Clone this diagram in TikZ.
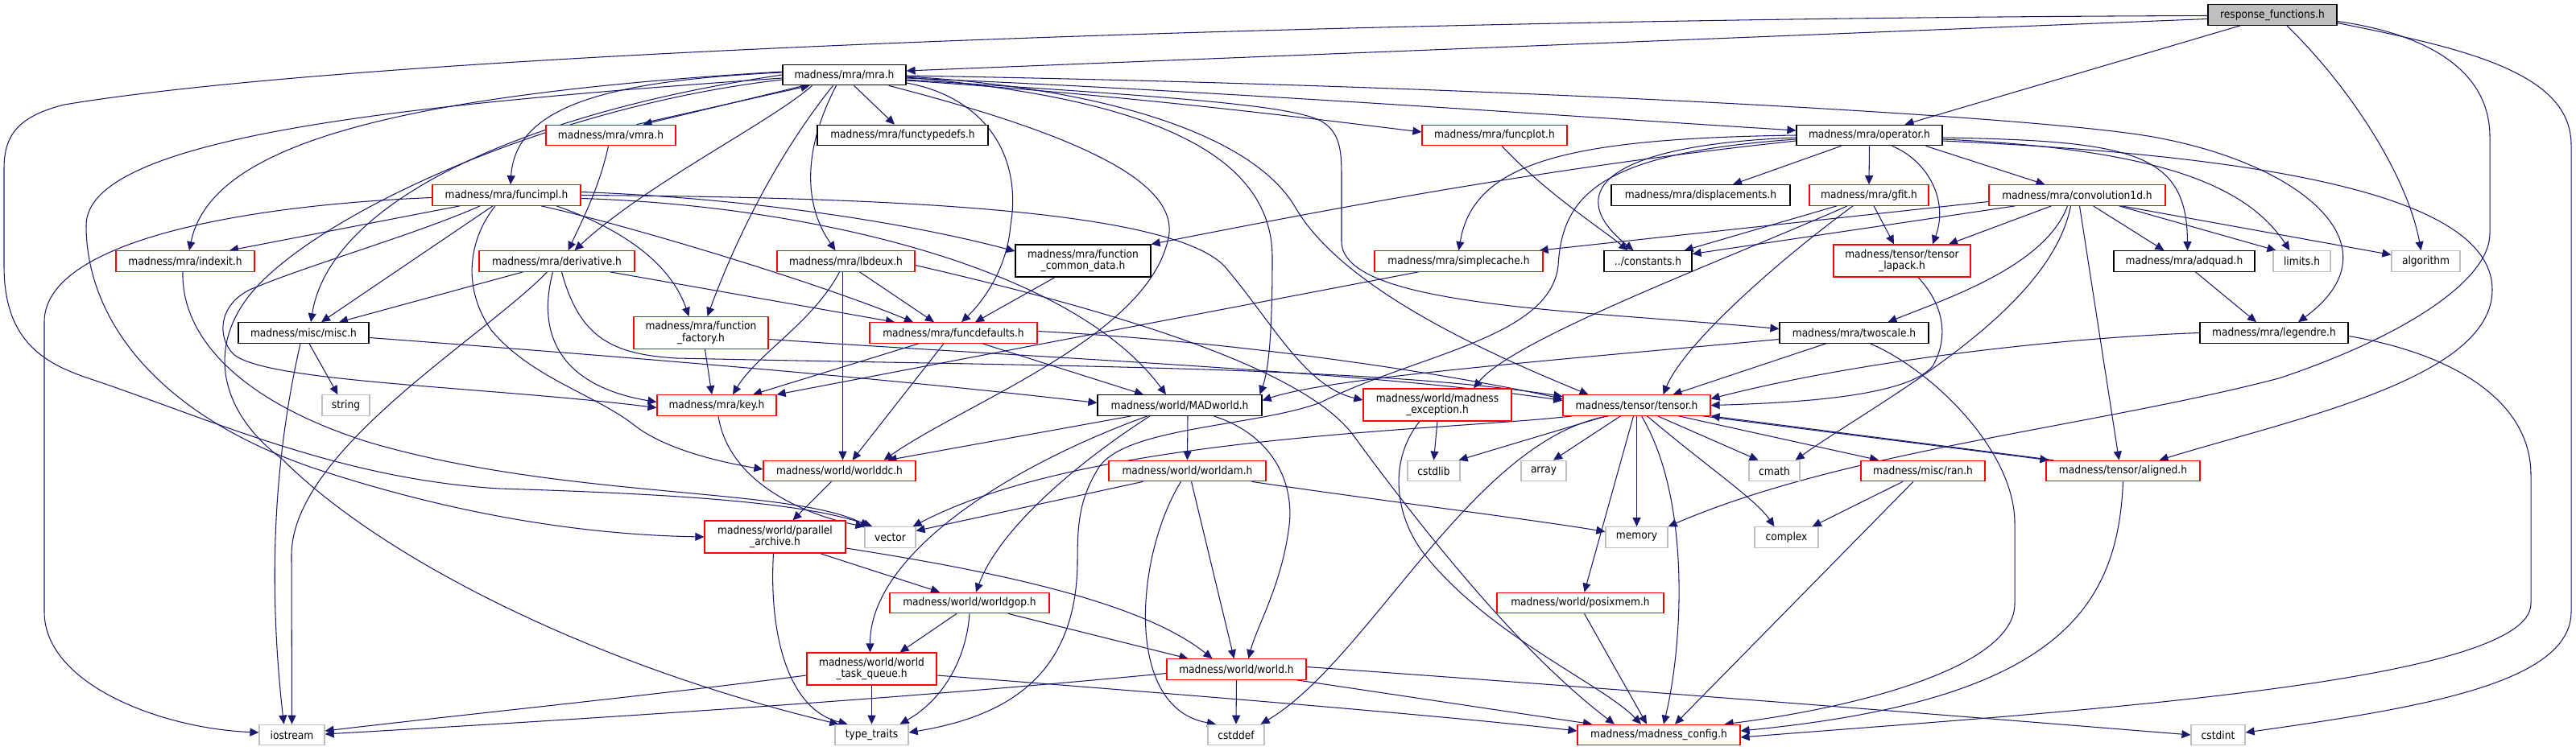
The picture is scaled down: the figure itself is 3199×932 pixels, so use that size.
\documentclass[tikz,border=0pt]{standalone}
\usepackage{fontspec}
\setmainfont{DejaVu Sans Condensed}
\usetikzlibrary{arrows.meta}
\definecolor{edgeblue}{HTML}{191970}
\definecolor{lgray}{HTML}{BFBFBF}
\pgfdeclarelayer{back}
\pgfdeclarelayer{edges}
\pgfsetlayers{back,edges,main}
\tikzset{
  nbox/.style={rectangle, draw, fill=white, line width=1.2pt, inner sep=0pt, minimum height=25.5pt, align=center, font=\fontsize{13.6}{14.3}\selectfont},
  rbox/.style={nbox, draw=red},
  bbox/.style={nbox, draw=black},
  gbox/.style={nbox, draw=lgray},
  rootbox/.style={nbox, draw=black, fill=lgray},
  tall/.style={minimum height=40pt},
  dep/.style={draw=edgeblue, line width=1.05pt, -{Triangle[length=11pt,width=10pt]}},
}
\begin{document}
\begin{tikzpicture}[x=1pt,y=-1pt]
\useasboundingbox (0,0) rectangle (3199,932);
\begin{pgfonlayer}{back}
\fill[white] (0,0) rectangle (3199,932);
\end{pgfonlayer}
% nodes
\node[rootbox, minimum width=160pt] (R) at (2822,18.5) {response\_functions.h};
\node[bbox, minimum width=153pt] (mra) at (1048.5,93) {madness/mra/mra.h};
\node[rbox, minimum width=161pt] (vmra) at (758.5,168) {madness/mra/vmra.h};
\node[bbox, minimum width=212pt] (ftd) at (1121,168) {madness/mra/functypedefs.h};
\node[rbox, minimum width=180pt] (fplot) at (1856,168) {madness/mra/funcplot.h};
\node[bbox, minimum width=181pt] (oper) at (2321.5,168) {madness/mra/operator.h};
\node[rbox, minimum width=184pt] (fimpl) at (629,242.5) {madness/mra/funcimpl.h};
\node[bbox, minimum width=222pt] (displ) at (2112,242.5) {madness/mra/displacements.h};
\node[rbox, minimum width=148pt] (gfit) at (2321,242.5) {madness/mra/gfit.h};
\node[rbox, minimum width=219pt] (conv) at (2579.5,242.5) {madness/mra/convolution1d.h};
\node[rbox, minimum width=172pt] (indexit) at (230,324.5) {madness/mra/indexit.h};
\node[rbox, minimum width=193pt] (deriv) at (691.5,324.5) {madness/mra/derivative.h};
\node[rbox, minimum width=171pt] (lbdeux) at (1050.5,324.5) {madness/mra/lbdeux.h};
\node[bbox, tall, minimum width=168pt] (fcd) at (1345,324) {madness/mra/function\\\_common\_data.h};
\node[rbox, minimum width=209pt] (scache) at (1811.5,324.5) {madness/mra/simplecache.h};
\node[bbox, minimum width=109pt] (consts) at (2046.5,324.5) {../constants.h};
\node[rbox, tall, minimum width=170pt] (lapack) at (2362,324) {madness/tensor/tensor\\\_lapack.h};
\node[bbox, minimum width=175pt] (adquad) at (2712.5,324.5) {madness/mra/adquad.h};
\node[gbox, minimum width=71pt] (limits) at (2858.5,324.5) {limits.h};
\node[gbox, minimum width=85pt] (algo) at (3012.5,324.5) {algorithm};
\node[bbox, minimum width=162pt] (misc) at (377,413.5) {madness/misc/misc.h};
\node[rbox, tall, minimum width=167pt] (ffact) at (870.5,413.5) {madness/mra/function\\\_factory.h};
\node[rbox, minimum width=208pt] (fdef) at (1184,413.5) {madness/mra/funcdefaults.h};
\node[bbox, minimum width=185pt] (twoscale) at (2302.5,413.5) {madness/mra/twoscale.h};
\node[bbox, minimum width=184pt] (legendre) at (2824,413.5) {madness/mra/legendre.h};
\node[gbox, minimum width=59pt] (string) at (429.5,503.5) {string};
\node[rbox, minimum width=148pt] (key) at (890,503.5) {madness/mra/key.h};
\node[bbox, minimum width=204pt] (madw) at (1465,503.5) {madness/world/MADworld.h};
\node[rbox, tall, minimum width=184pt] (mexc) at (1785,503) {madness/world/madness\\\_exception.h};
\node[rbox, minimum width=183pt] (tensor) at (2032.5,503.5) {madness/tensor/tensor.h};
\node[rbox, minimum width=189pt] (wdc) at (1042.5,585) {madness/world/worlddc.h};
\node[rbox, minimum width=195pt] (wam) at (1474.5,585) {madness/world/worldam.h};
\node[gbox, minimum width=65pt] (cstdlib) at (1780.5,585) {cstdlib};
\node[gbox, minimum width=56pt] (array) at (1917,585) {array};
\node[gbox, minimum width=63pt] (cmath) at (2203.5,585) {cmath};
\node[rbox, minimum width=154pt] (ran) at (2388,585) {madness/misc/ran.h};
\node[rbox, minimum width=191pt] (aligned) at (2636.5,585) {madness/tensor/aligned.h};
\node[rbox, tall, minimum width=175pt] (parch) at (962.5,667) {madness/world/parallel\\\_archive.h};
\node[gbox, minimum width=63pt] (vector) at (1105.5,667.5) {vector};
\node[gbox, minimum width=77pt] (memory) at (2032.5,667.5) {memory};
\node[gbox, minimum width=79pt] (complex) at (2218.5,667.5) {complex};
\node[rbox, minimum width=198pt] (wgop) at (1204,749) {madness/world/worldgop.h};
\node[rbox, minimum width=207pt] (posix) at (1962.5,749) {madness/world/posixmem.h};
\node[rbox, tall, minimum width=161pt] (wtq) at (1082.5,831) {madness/world/world\\\_task\_queue.h};
\node[rbox, minimum width=173pt] (world) at (1535.5,831.5) {madness/world/world.h};
\node[gbox, minimum width=81pt] (iostream) at (362.5,913) {iostream};
\node[gbox, minimum width=91pt] (ttraits) at (1082.5,913) {type\_traits};
\node[gbox, minimum width=70pt] (cstddef) at (1535,913) {cstddef};
\node[rbox, minimum width=202pt] (config) at (2060,913) {madness/madness\_config.h};
\node[gbox, minimum width=67pt] (cstdint) at (2754.5,913) {cstdint};

\begin{pgfonlayer}{edges}
% response_functions.h
\draw[dep] ([yshift=-5pt]R.west) -- ([yshift=5pt]mra.east);
\draw[dep] ([xshift=-40pt]R.south) -- ([xshift=44pt]oper.north);
\draw[dep] ([yshift=-1pt]R.west) .. controls (1800,22) and (500,60) .. (80,130) .. controls (20,145) and (5,170) .. (5,210) -- (5,330) .. controls (5,420) and (50,450) .. (110,470) .. controls (260,520) and (420,595) .. (620,607) .. controls (850,614) and (1000,625) .. ([xshift=10pt]vector.north west);
\draw[dep] ([xshift=18pt]R.south) .. controls (2920,110) and (2990,220) .. ([xshift=-6pt]algo.north);
\draw[dep] ([yshift=-8pt]R.east) .. controls (3000,40) and (3092,80) .. (3092,170) -- (3092,290) .. controls (3092,350) and (2980,420) .. (2830,470) .. controls (2600,530) and (2290,560) .. (memory.north east);
\draw[dep] ([yshift=-10pt]R.east) .. controls (3060,60) and (3193,90) .. (3193,180) -- (3193,760) .. controls (3193,850) and (3000,880) .. ([yshift=3pt]cstdint.east);
% mra.h
\draw[dep] ([xshift=-50pt]mra.south) -- ([xshift=40pt]vmra.north);
\draw[dep] ([xshift=32pt]vmra.north) -- ([xshift=-43pt]mra.south);
\draw[dep] ([xshift=12pt]mra.south) -- ([xshift=-10pt]ftd.north);
\draw[dep] ([yshift=-7pt]mra.east) .. controls (1400,118) and (1650,150) .. ([yshift=4pt]fplot.west);
\draw[dep] ([yshift=-4pt]mra.east) .. controls (1500,112) and (2000,148) .. ([yshift=6pt]oper.west);
\draw[dep] ([yshift=-1pt]mra.east) .. controls (1800,105) and (2450,140) .. (2640,165) .. controls (2840,190) and (2990,300) .. ([xshift=30pt]legendre.north);
\draw[dep] ([yshift=-6pt]mra.east) .. controls (1450,120) and (1600,130) .. (1640,150) .. controls (1666,165) and (1666,190) .. (1666,225) -- (1666,300) .. controls (1666,380) and (1950,385) .. ([yshift=5pt]twoscale.west);
\draw[dep] ([yshift=-2pt]mra.east) .. controls (1380,110) and (1560,170) .. (1610,260) .. controls (1670,360) and (1850,440) .. ([xshift=-60pt]tensor.north);
\draw[dep] ([yshift=-3pt]mra.east) .. controls (1400,120) and (1580,180) .. (1580,320) .. controls (1580,420) and (1575,460) .. ([xshift=-3pt]madw.north east);
\draw[dep] ([xshift=55pt]mra.south) .. controls (1350,170) and (1470,230) .. (1450,300) .. controls (1420,420) and (1200,500) .. ([xshift=55pt]wdc.north);
\draw[dep] ([yshift=-10pt]mra.east) .. controls (1220,120) and (1270,190) .. (1255,280) .. controls (1250,340) and (1215,380) .. ([xshift=10pt]fdef.north);
\draw[dep] ([xshift=-10pt]mra.south) .. controls (1000,180) and (995,250) .. ([xshift=-13pt]lbdeux.north);
\draw[dep] ([xshift=-14pt]mra.south) .. controls (975,180) and (920,280) .. ([xshift=8pt]ffact.north);
\draw[dep] ([xshift=-40pt]mra.south) .. controls (960,150) and (800,230) .. ([xshift=22pt]deriv.north);
\draw[dep] ([yshift=3pt]mra.west) .. controls (760,100) and (640,130) .. ([xshift=5pt]fimpl.north);
\draw[dep] ([yshift=4pt]mra.west) .. controls (450,120) and (260,190) .. ([xshift=5pt]indexit.north);
\draw[dep] (mra.west) .. controls (650,140) and (410,250) .. ([xshift=9pt]misc.north);
\draw[dep] ([yshift=-4pt]mra.west) .. controls (500,130) and (107,170) .. (107,280) .. controls (107,400) and (200,520) .. (400,585) .. controls (600,650) and (760,665) .. (parch.west);
\draw[dep] ([yshift=-6pt]mra.west) .. controls (700,130) and (430,250) .. (330,345) .. controls (250,420) and (270,510) .. (350,570) .. controls (480,700) and (750,830) .. ([xshift=5pt]ttraits.north west);
% vmra.h
\draw[dep] ([xshift=-3pt]vmra.south) .. controls (745,230) and (725,270) .. ([xshift=14pt]deriv.north);
% operator.h
\draw[dep] ([xshift=-35pt]oper.south) -- ([xshift=40pt]displ.north);
\draw[dep] (oper.south) -- (gfit.north);
\draw[dep] ([xshift=70pt]oper.south) -- ([xshift=-40pt]conv.north);
\draw[dep] (oper.west) .. controls (1950,172) and (1830,200) .. (scache.north);
\draw[dep] ([yshift=-3pt]oper.west) .. controls (1990,180) and (1940,240) .. ([xshift=-18pt]consts.north);
\draw[dep] ([yshift=-5pt]oper.west) .. controls (1990,190) and (1940,240) .. (1935,330) .. controls (1925,420) and (1760,440) .. (1640,500) .. controls (1560,530) and (1400,530) .. (1365,580) .. controls (1340,620) and (1338,650) .. (1338,700) .. controls (1336,840) and (1250,890) .. ([yshift=3pt]ttraits.east);
\draw[dep] ([yshift=-7pt]oper.west) .. controls (1900,210) and (1600,270) .. (fcd.north east);
\draw[dep] ([xshift=28pt]oper.south) .. controls (2395,200) and (2420,250) .. ([xshift=38pt]lapack.north);
\draw[dep] ([yshift=-3pt]oper.east) .. controls (2650,175) and (2716,190) .. ([xshift=4pt]adquad.north);
\draw[dep] ([yshift=-5pt]oper.east) .. controls (2680,185) and (2790,230) .. ([xshift=-15pt]limits.north);
\draw[dep] ([yshift=-7pt]oper.east) .. controls (2850,195) and (3095,250) .. (3095,360) .. controls (3095,470) and (2850,520) .. ([xshift=45pt]aligned.north);
% convolution1d.h
\draw[dep] ([yshift=-8pt]conv.west) -- ([xshift=-5pt]scache.north east);
\draw[dep] ([xshift=-77pt]conv.south) -- ([yshift=9pt]consts.east);
\draw[dep] ([xshift=-32pt]conv.south) -- ([xshift=58pt]lapack.north);
\draw[dep] ([xshift=-12pt]conv.south) .. controls (2540,330) and (2420,370) .. ([xshift=42pt]twoscale.north);
\draw[dep] ([xshift=-8pt]conv.south) .. controls (2545,390) and (2330,500) .. ([xshift=-6pt]cmath.north east);
\draw[dep] ([xshift=3pt]conv.south) -- ([xshift=-5pt]aligned.north);
\draw[dep] ([xshift=20pt]conv.south) -- ([xshift=-25pt]adquad.north);
\draw[dep] ([xshift=52pt]conv.south) -- ([xshift=-32pt]limits.north);
\draw[dep] ([xshift=55pt]conv.south) -- ([yshift=8pt]algo.west);
% gfit.h
\draw[dep] ([xshift=-40pt]gfit.south) -- ([xshift=-10pt]consts.north east);
\draw[dep] ([xshift=6pt]gfit.south) -- ([xshift=-10pt]lapack.north);
\draw[dep] ([xshift=-27pt]gfit.south) .. controls (2150,320) and (1880,420) .. ([xshift=45pt]mexc.north);
\draw[dep] ([xshift=-20pt]gfit.south) .. controls (2200,330) and (2090,430) .. ([xshift=33pt]tensor.north);
% tensor_lapack.h
\draw[dep] ([xshift=20pt]lapack.south) .. controls (2415,380) and (2420,420) .. (2400,455) .. controls (2370,490) and (2250,500) .. (tensor.east);
% funcplot, simplecache, common_data, adquad
\draw[dep] ([xshift=9pt]fplot.south) .. controls (1920,240) and (1990,285) .. ([xshift=-25pt]consts.north);
\draw[dep] ([xshift=-50pt]scache.south) -- (key.north east);
\draw[dep] ([xshift=-35pt]fcd.south) -- ([xshift=27pt]fdef.north);
\draw[dep] ([xshift=14pt]adquad.south) -- ([xshift=-22pt]legendre.north);
% twoscale.h
\draw[dep] ([xshift=-35pt]twoscale.south) -- ([xshift=45pt]tensor.north);
\draw[dep] ([yshift=-8pt]twoscale.west) .. controls (1900,450) and (1650,470) .. ([yshift=6pt]madw.east);
\draw[dep] ([xshift=20pt]twoscale.south) .. controls (2400,460) and (2502,560) .. (2502,650) -- (2502,750) .. controls (2502,830) and (2300,880) .. ([xshift=-20pt]config.north east);
% legendre.h
\draw[dep] (legendre.west) .. controls (2550,420) and (2300,450) .. ([yshift=8pt]tensor.east);
\draw[dep] ([yshift=-4pt]legendre.east) .. controls (3050,440) and (3143,500) .. (3143,590) -- (3143,750) .. controls (3143,850) and (2550,885) .. ([yshift=-3pt]config.east);
% funcimpl.h
\draw[dep] ([yshift=-3pt]fimpl.west) .. controls (300,255) and (55,300) .. (55,400) -- (55,760) .. controls (55,850) and (200,905) .. ([yshift=3pt]iostream.west);
\draw[dep] ([xshift=-58pt]fimpl.south) -- ([xshift=55pt]indexit.north);
\draw[dep] ([xshift=-17pt]fimpl.south) -- ([xshift=22pt]misc.north);
\draw[dep] ([xshift=-33pt]fimpl.south) .. controls (520,290) and (380,330) .. (310,360) .. controls (270,380) and (270,420) .. (290,440) .. controls (330,475) and (600,480) .. ([yshift=-3pt]key.west);
\draw[dep] ([xshift=-14pt]fimpl.south) .. controls (580,300) and (575,360) .. (610,410) .. controls (660,470) and (740,490) .. (790,530) .. controls (830,560) and (900,575) .. ([yshift=2pt]wdc.west);
\draw[dep] ([xshift=62pt]fimpl.south) .. controls (760,280) and (830,320) .. ([xshift=-15pt]ffact.north);
\draw[dep] ([xshift=43pt]fimpl.south) .. controls (760,275) and (1000,345) .. ([xshift=-50pt]fdef.north);
\draw[dep] ([yshift=4pt]fimpl.east) .. controls (900,245) and (1100,270) .. ([yshift=12pt]fcd.west);
\draw[dep] ([yshift=-4pt]fimpl.east) .. controls (1000,255) and (1330,330) .. ([xshift=-17pt]madw.north);
\draw[dep] (fimpl.east) .. controls (1100,245) and (1450,260) .. (1520,330) .. controls (1580,400) and (1620,480) .. ([yshift=6pt]mexc.west);
% derivative.h
\draw[dep] ([xshift=-42pt]deriv.south) -- ([xshift=44pt]misc.north);
\draw[dep] ([xshift=66pt]deriv.south) -- ([xshift=-73pt]fdef.north);
\draw[dep] ([xshift=-12pt]deriv.south) .. controls (600,420) and (362,560) .. (362,690) -- (iostream.north);
\draw[dep] ([xshift=-5pt]deriv.south) .. controls (665,420) and (700,480) .. ([yshift=4pt]key.west);
\draw[dep] ([xshift=6pt]deriv.south) .. controls (720,420) and (760,440) .. (840,445) .. controls (1300,455) and (1700,455) .. ([yshift=11pt]tensor.west);
% lbdeux.h
\draw[dep] ([xshift=-8pt]lbdeux.south) .. controls (1010,400) and (940,440) .. ([xshift=20pt]key.north);
\draw[dep] ([xshift=-4pt]lbdeux.south) -- ([xshift=4pt]wdc.north);
\draw[dep] ([xshift=17pt]lbdeux.south) -- ([xshift=-24pt]fdef.north);
\draw[dep] ([yshift=-5pt]lbdeux.east) .. controls (1400,390) and (1620,460) .. (1680,540) .. controls (1790,690) and (1900,820) .. ([xshift=-55pt]config.north);
% function_factory.h
\draw[dep] ([xshift=5pt]ffact.south) -- ([xshift=-6pt]key.north);
\draw[dep] ([yshift=-8pt]ffact.east) .. controls (1300,445) and (1700,462) .. ([yshift=6pt]tensor.west);
% funcdefaults.h
\draw[dep] ([xshift=-43pt]fdef.south) -- ([xshift=45pt]key.north);
\draw[dep] ([xshift=-12pt]fdef.south) -- ([xshift=16pt]wdc.north);
\draw[dep] ([xshift=36pt]fdef.south) -- ([xshift=-45pt]madw.north);
\draw[dep] ([yshift=2pt]fdef.east) .. controls (1550,425) and (1800,465) .. ([yshift=8pt]tensor.west);
% misc.h
\draw[dep] ([xshift=7pt]misc.south) -- ([xshift=-10pt]string.north);
\draw[dep] ([xshift=-4pt]misc.south) .. controls (345,550) and (330,700) .. ([xshift=-10pt]iostream.north);
\draw[dep] ([yshift=-6pt]misc.east) .. controls (800,445) and (1100,470) .. ([yshift=3pt]madw.west);
% indexit.h, key.h
\draw[dep] ([xshift=-3pt]indexit.south) .. controls (225,420) and (300,500) .. (460,550) .. controls (700,620) and (980,605) .. ([xshift=6pt]vector.north west);
\draw[dep] ([xshift=2pt]key.south) .. controls (905,600) and (1000,640) .. (vector.north west);
% MADworld.h
\draw[dep] ([xshift=-60pt]madw.south) -- ([xshift=60pt]wdc.north);
\draw[dep] ([xshift=10pt]madw.south) -- (wam.north);
\draw[dep] ([xshift=-37pt]madw.south) .. controls (1330,580) and (1240,660) .. ([xshift=8pt]wgop.north);
\draw[dep] ([xshift=-40pt]madw.south) .. controls (1250,580) and (1080,690) .. ([xshift=-2pt]wtq.north);
\draw[dep] ([xshift=42pt]madw.south) .. controls (1580,540) and (1610,600) .. (1600,660) .. controls (1590,730) and (1560,780) .. ([xshift=15pt]world.north);
% worlddc.h, worldam.h
\draw[dep] ([xshift=-10pt]wdc.south) -- ([xshift=22pt]parch.north);
\draw[dep] ([xshift=-55pt]wam.south) -- ([yshift=8pt]vector.east);
\draw[dep] ([xshift=80pt]wam.south) .. controls (1700,620) and (1900,645) .. ([yshift=7pt]memory.west);
\draw[dep] ([xshift=5pt]wam.south) -- ([xshift=-3pt]world.north);
\draw[dep] ([xshift=-8pt]wam.south) .. controls (1410,690) and (1395,880) .. ([xshift=-25pt]cstddef.north);
% parallel_archive.h
\draw[dep] ([xshift=56pt]parch.south) -- ([xshift=-37pt]wgop.north);
\draw[dep] ([yshift=-14pt]parch.east) .. controls (1250,712) and (1420,750) .. ([xshift=-30pt]world.north);
\draw[dep] ([xshift=-2pt]parch.south) .. controls (955,780) and (975,880) .. ([xshift=-30pt]ttraits.north);
% worldgop.h
\draw[dep] ([xshift=-16pt]wgop.south) -- ([xshift=35pt]wtq.north);
\draw[dep] ([xshift=48pt]wgop.south) -- ([xshift=-60pt]world.north);
\draw[dep] (wgop.south) .. controls (1200,820) and (1170,870) .. ([xshift=35pt]ttraits.north);
% world_task_queue.h
\draw[dep] (wtq.south) -- (ttraits.north);
\draw[dep] ([yshift=-8pt]wtq.west) .. controls (800,865) and (600,885) .. ([yshift=5pt]iostream.east);
\draw[dep] ([yshift=-8pt]wtq.east) .. controls (1500,865) and (1800,890) .. ([yshift=5pt]config.west);
% world.h
\draw[dep] (world.south) -- (cstddef.north);
\draw[dep] ([yshift=-5pt]world.west) .. controls (1100,870) and (700,895) .. ([yshift=1pt]iostream.east);
\draw[dep] ([xshift=75pt]world.south) -- ([xshift=-83pt]config.north);
\draw[dep] ([yshift=3pt]world.east) .. controls (2000,855) and (2500,895) .. (cstdint.west);
% madness_exception.h
\draw[dep] (mexc.south) -- (cstdlib.north);
\draw[dep] ([xshift=-22pt]mexc.south) .. controls (1725,570) and (1730,640) .. (1770,690) .. controls (1850,790) and (1990,850) .. ([xshift=-22pt]config.north);
% tensor.h
\draw[dep] ([xshift=-38pt]tensor.south) -- ([xshift=-2pt]cstdlib.north east);
\draw[dep] ([xshift=-20pt]tensor.south) -- ([xshift=12pt]array.north);
\draw[dep] (tensor.south) -- (memory.north);
\draw[dep] ([xshift=-4pt]tensor.south) -- ([xshift=5pt]posix.north);
\draw[dep] ([xshift=6pt]tensor.south) .. controls (2100,620) and (2090,800) .. ([xshift=6pt]config.north);
\draw[dep] ([xshift=26pt]tensor.south) -- ([xshift=-20pt]cmath.north);
\draw[dep] ([xshift=13pt]tensor.south) .. controls (2120,580) and (2180,620) .. ([xshift=-15pt]complex.north);
\draw[dep] ([xshift=52pt]tensor.south) -- ([xshift=-55pt]ran.north);
\draw[dep] ([xshift=-10pt]tensor.south east) -- ([xshift=4pt]aligned.north west);
\draw[dep] ([xshift=10pt]aligned.north west) -- (tensor.south east);
\draw[dep] ([xshift=-80pt]tensor.south) .. controls (1800,535) and (1350,540) .. ([xshift=-4pt]vector.north east);
\draw[dep] ([xshift=-35pt]tensor.south) .. controls (1830,545) and (1700,820) .. ([xshift=-5pt]cstddef.north east);
% ran.h, aligned.h, posixmem.h
\draw[dep] ([xshift=-25pt]ran.south) -- ([xshift=-8pt]complex.north east);
\draw[dep] ([xshift=-12pt]ran.south) -- ([xshift=20pt]config.north);
\draw[dep] (aligned.south) .. controls (2630,760) and (2550,870) .. ([yshift=5pt]config.east);
\draw[dep] ([xshift=5pt]posix.south) -- ([xshift=-15pt]config.north);
\end{pgfonlayer}
\end{tikzpicture}
\end{document}
